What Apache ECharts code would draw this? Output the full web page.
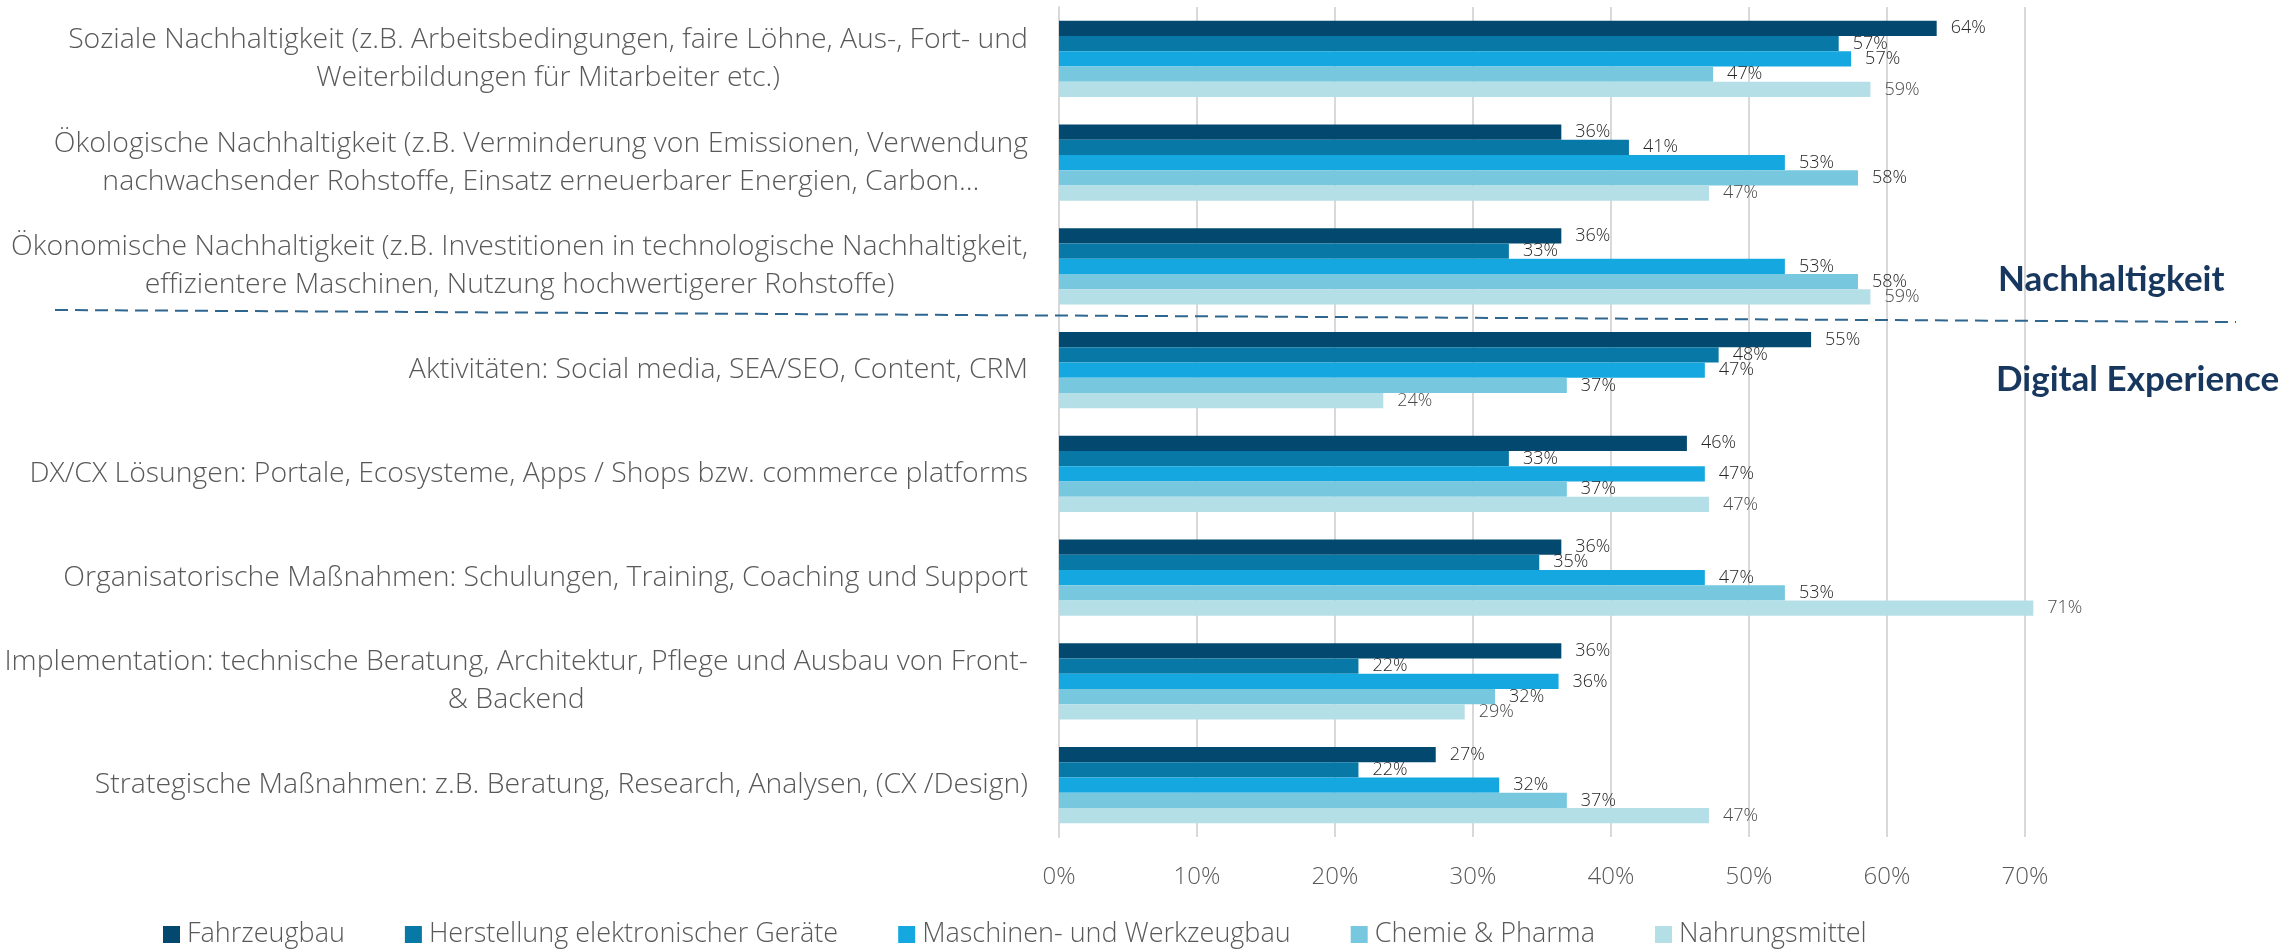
<!DOCTYPE html>
<html>
<head>
<meta charset="utf-8">
<script src="https://cdn.jsdelivr.net/npm/echarts@6/dist/echarts.min.js"></script>
<style>
  html, body { margin: 0; padding: 0; background: #fff; }
  #chart { width: 2292px; height: 949px; }
</style>
</head>
<body>
<div id="chart"></div>
<script>
// Kategorien (von oben nach unten)
const categories = [
  'Soziale Nachhaltigkeit (z.B. Arbeitsbedingungen, faire Löhne, Aus-, Fort- und\nWeiterbildungen für Mitarbeiter etc.)',
  'Ökologische Nachhaltigkeit (z.B. Verminderung von Emissionen, Verwendung\nnachwachsender Rohstoffe, Einsatz erneuerbarer Energien, Carbon…',
  'Ökonomische Nachhaltigkeit (z.B. Investitionen in technologische Nachhaltigkeit,\neffizientere Maschinen, Nutzung hochwertigerer Rohstoffe)',
  'Aktivitäten: Social media, SEA/SEO, Content, CRM',
  'DX/CX Lösungen: Portale, Ecosysteme, Apps / Shops bzw. commerce platforms',
  'Organisatorische Maßnahmen: Schulungen, Training, Coaching und Support',
  'Implementation: technische Beratung, Architektur, Pflege und Ausbau von Front-\n& Backend',
  'Strategische Maßnahmen: z.B. Beratung, Research, Analysen, (CX /Design)'
]

const seriesNames = ['Fahrzeugbau', 'Herstellung elektronischer Geräte', 'Maschinen- und Werkzeugbau', 'Chemie & Pharma', 'Nahrungsmittel']

// Werte in Prozent
const fahrzeugbau = [63.6, 36.4, 36.4, 54.5, 45.5, 36.4, 36.4, 27.3]
const elektronik = [56.5, 41.3, 32.6, 47.8, 32.6, 34.8, 21.7, 21.7]
const maschinenbau = [57.4, 52.6, 52.6, 46.8, 46.8, 46.8, 36.2, 31.9]
const chemie = [47.4, 57.9, 57.9, 36.8, 36.8, 52.6, 31.6, 36.8]
const nahrung = [58.8, 47.1, 58.8, 23.5, 47.1, 70.6, 29.4, 47.1]

const xTicks = [0, 10, 20, 30, 40, 50, 60, 70]

const colors = ['#03486f', '#0878a6', '#15a8e0', '#77c8df', '#b5dfe6']
const FONT = '"Open Sans", sans-serif'

const chart = echarts.init(document.getElementById('chart'))

const allValues = [fahrzeugbau, elektronik, maschinenbau, chemie, nahrung]
const series = allValues.map((vals, i) => ({
  name: seriesNames[i],
  type: 'bar',
  data: vals,
  clip: false,
  barGap: '0%',
  barCategoryGap: '26.5%',
  itemStyle: { color: colors[i] },
  label: {
    show: true,
    position: 'right',
    distance: 14,
    fontFamily: FONT,
    fontWeight: 300,
    fontSize: 18,
    color: i === 4 ? '#4a4a4a' : '#262626',
    formatter: (p) => Math.round(p.value) + '%'
  }
}))

const option = {
  animation: false,
  grid: {
    left: 1059,
    right: 267,
    top: 7,
    bottom: 112,
    containLabel: false
  },
  xAxis: {
    type: 'value',
    min: xTicks[0],
    max: xTicks[xTicks.length - 1],
    interval: 10,
    axisLine: { show: false },
    axisTick: { show: false },
    splitLine: { lineStyle: { color: '#d9d9d9', width: 2 } },
    axisLabel: {
      margin: 28,
      fontFamily: FONT,
      fontWeight: 300,
      fontSize: 24,
      color: '#595959',
      formatter: '{value}%'
    }
  },
  yAxis: {
    type: 'category',
    inverse: true,
    data: categories,
    axisLine: { show: true, lineStyle: { color: '#d9d9d9', width: 2 } },
    axisTick: { show: false },
    axisLabel: {
      margin: 31,
      align: 'right',
      formatter: (v) => v.split('\n').map(l => '{c|' + l + '}').join('\n'),
      rich: {
        c: {
          align: 'center',
          fontFamily: FONT,
          fontWeight: 300,
          fontSize: 28.4,
          lineHeight: 38,
          color: '#595959'
        }
      }
    }
  },
  legend: {
    left: 158,
    top: 916,
    icon: 'rect',
    itemWidth: 17,
    itemHeight: 17,
    itemGap: 60,
    textStyle: {
      fontFamily: FONT,
      fontWeight: 300,
      fontSize: 27,
      color: '#595959',
      padding: [0, 0, 0, 2]
    }
  },
  graphic: [
    {
      type: 'line',
      shape: { x1: 55, y1: 310, x2: 2236, y2: 322 },
      style: { stroke: '#2f6690', lineWidth: 2, lineDash: [13, 7] },
      z: 10
    },
    {
      type: 'text',
      left: 1998,
      top: 262,
      style: {
        text: 'Nachhaltigkeit',
        font: 'bold 35px Lato, sans-serif',
        fill: '#17375e'
      },
      z: 10
    },
    {
      type: 'text',
      left: 1996,
      top: 362,
      style: {
        text: 'Digital Experience',
        font: 'bold 35px Lato, sans-serif',
        fill: '#17375e'
      },
      z: 10
    }
  ],
  series: series
}

chart.setOption(option)
</script>
</body>
</html>
